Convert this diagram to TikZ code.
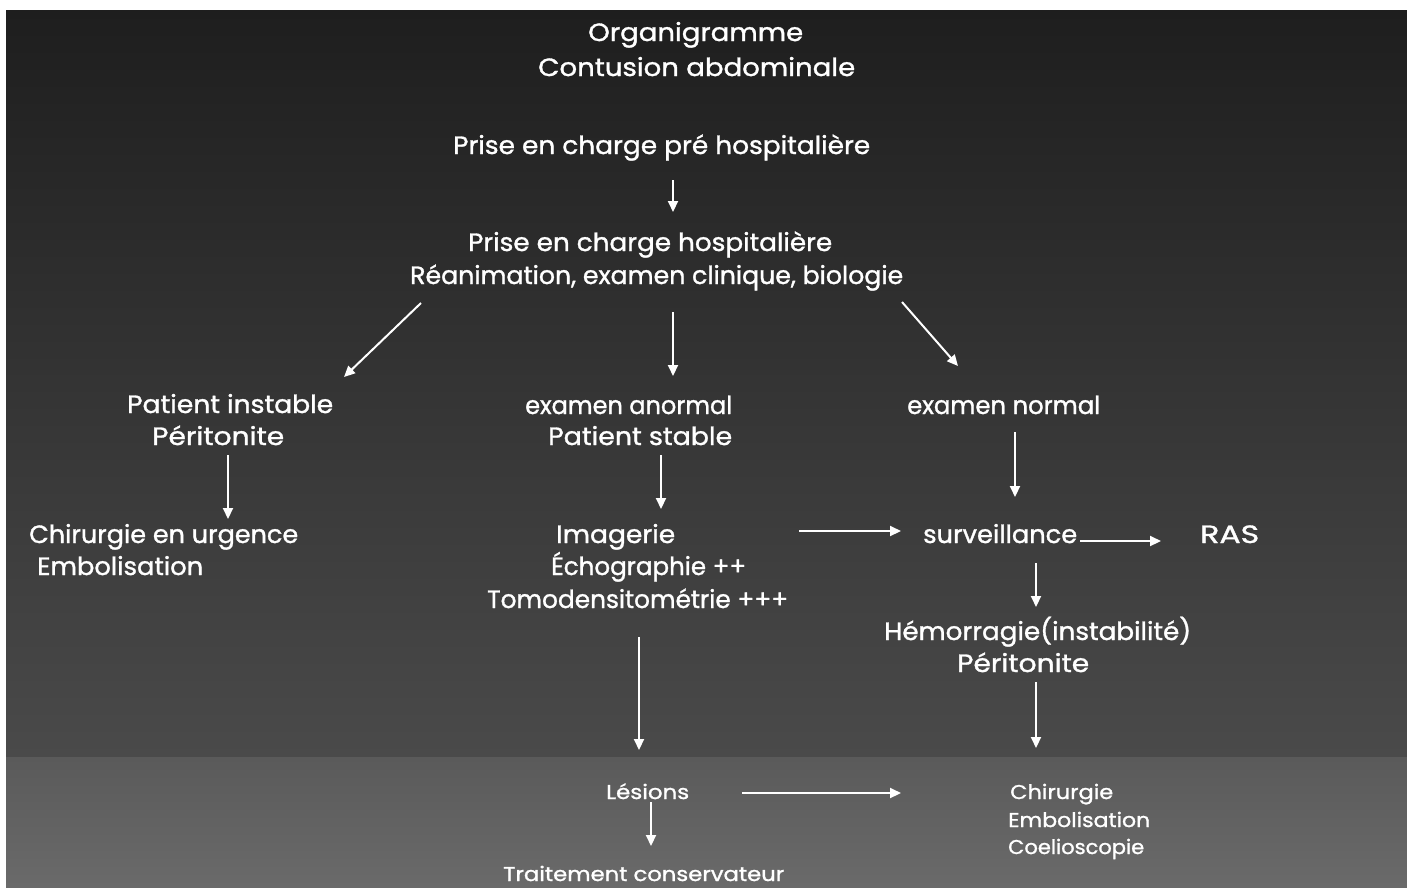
\documentclass[tikz,border=0pt]{standalone}
\usepackage{graphicx}
\usepackage{fontspec}
\setmainfont{Poppins}[FakeBold=1.2]
\usetikzlibrary{arrows.meta}
\newcommand{\fw}[2]{\resizebox{#1pt}{\height}{#2}}
\definecolor{bgtop}{HTML}{1E1E1E}
\definecolor{bgbot}{HTML}{4A4A4A}
\definecolor{bandtop}{HTML}{5A5A5A}
\definecolor{bandbot}{HTML}{6A6A6A}
\begin{document}
\begin{tikzpicture}[x=1pt,y=-1pt,
  txt/.style={anchor=base west,inner sep=0pt,text=white,font=\fontsize{25}{30}\selectfont},
  sml/.style={txt,font=\fontsize{20}{24}\selectfont},
  arr/.style={draw=white,line width=2pt,-{Triangle[length=11pt,width=10pt]}}]
\useasboundingbox (0,0) rectangle (1407,887);
\fill[white] (0,0) rectangle (1407,887);
\shade[top color=bgtop,bottom color=bgbot] (6,10) rectangle (1407,757);
\shade[top color=bandtop,bottom color=bandbot] (6,757) rectangle (1407,887);

% title
\node[txt] (t1) at (588,41) {\fw{215}{Organigramme}};
\node[txt] (t2) at (538,76) {\fw{317}{Contusion abdominale}};

\node[txt] (prepre) at (453,154) {\fw{417}{Prise en charge pré hospitalière}};
\node[txt] (hosp) at (468,251) {\fw{364}{Prise en charge hospitalière}};
\node[txt] (reanim) at (410,284) {\fw{493}{Réanimation, examen clinique, biologie}};

\node[txt] (pinst) at (127,413) {\fw{206}{Patient instable}};
\node[txt] (perL) at (152,445) {\fw{132}{Péritonite}};
\node[txt] (chir) at (29,543) {\fw{269}{Chirurgie en urgence}};
\node[txt] (embL) at (37,575) {\fw{166}{Embolisation}};

\node[txt] (exa) at (525,414) {\fw{207}{examen anormal}};
\node[txt] (pst) at (548,445) {\fw{184}{Patient stable}};
\node[txt] (img) at (556,543) {\fw{119}{Imagerie}};
\node[txt] (echo) at (551,575) {\fw{195}{Échographie ++}};
\node[txt] (tomo) at (487,608) {\fw{301}{Tomodensitométrie +++}};

\node[txt] (exn) at (907,414) {\fw{193}{examen normal}};
\node[txt] (surv) at (923,543) {\fw{154}{surveillance}};
\node[txt] (ras) at (1200,543) {\fw{59}{RAS}};
\node[txt] (hem) at (884,640) {\fw{307}{Hémorragie(instabilité)}};
\node[txt] (perR) at (957,672) {\fw{132}{Péritonite}};

\node[sml] (les) at (606,799) {\fw{83}{Lésions}};
\node[sml] (trt) at (503,881) {\fw{281}{Traitement conservateur}};
\node[sml] (chirB) at (1010,799) {\fw{103}{Chirurgie}};
\node[sml] (embB) at (1008,827) {\fw{142}{Embolisation}};
\node[sml] (coel) at (1008,854) {\fw{136}{Coelioscopie}};

% connectors
\draw[arr] ([shift={(220,26)}]prepre.base west) -- ([shift={(205,-39)}]hosp.base west);
\draw[arr] ([shift={(11,19)}]reanim.base west) -- ([shift={(217,-36)}]pinst.base west);
\draw[arr] ([shift={(263,28)}]reanim.base west) -- ([shift={(148,-38)}]exa.base west);
\draw[arr] ([shift={(492,18)}]reanim.base west) -- ([shift={(51,-48)}]exn.base west);
\draw[arr] ([shift={(76,10)}]perL.base west) -- ([shift={(199,-24)}]chir.base west);
\draw[arr] ([shift={(113,10)}]pst.base west) -- ([shift={(105,-34)}]img.base west);
\draw[arr] ([shift={(243,-12)}]img.base west) -- ([shift={(-22,-12)}]surv.base west);
\draw[arr] ([shift={(108,18)}]exn.base west) -- ([shift={(92,-46)}]surv.base west);
\draw[arr] ([shift={(157,-2)}]surv.base west) -- ([shift={(-39,-2)}]ras.base west);
\draw[arr] ([shift={(113,20)}]surv.base west) -- ([shift={(152,-33)}]hem.base west);
\draw[arr] ([shift={(79,10)}]perR.base west) -- ([shift={(26,-51)}]chirB.base west);
\draw[arr] ([shift={(152,29)}]tomo.base west) -- ([shift={(33,-49)}]les.base west);
\draw[arr] ([shift={(136,-6)}]les.base west) -- ([shift={(-109,-6)}]chirB.base west);
\draw[arr] ([shift={(45,3)}]les.base west) -- ([shift={(148,-35)}]trt.base west);
\end{tikzpicture}
\end{document}
